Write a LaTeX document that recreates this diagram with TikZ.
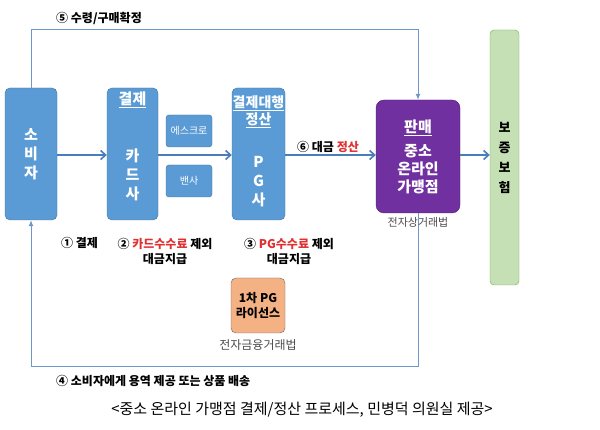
\documentclass[tikz,border=0pt]{standalone}
\usepackage{fontspec}
\setmainfont{Noto Sans CJK KR}
\usetikzlibrary{arrows.meta}
\definecolor{bl}{HTML}{5B9BD5}
\definecolor{bld}{HTML}{41719C}
\definecolor{pu}{HTML}{7030A0}
\definecolor{gr}{HTML}{C5E0B4}
\definecolor{grd}{HTML}{70AD47}
\definecolor{og}{HTML}{F4B183}
\definecolor{ln}{HTML}{4A7EBB}
\definecolor{rd}{HTML}{E03030}
\begin{document}
\begin{tikzpicture}[x=1pt,y=-1pt,
  bbox/.style={draw=bld,fill=bl,rounded corners=5pt,text=white,font=\bfseries\fontsize{15}{19}\selectfont,align=center,inner sep=0},
  btxt/.style={text=white,font=\bfseries\fontsize{15}{19}\selectfont,align=center,inner sep=0},
  sbox/.style={draw=bld,fill=bl,rounded corners=3pt,text=white,font=\fontsize{10}{12}\selectfont,inner sep=0},
  arr/.style={draw=ln,line width=1.6pt,-{Straight Barb[length=5pt,width=9pt]}},
  thin/.style={draw=ln!80,line width=1pt},
  lab/.style={font=\bfseries\fontsize{12}{15}\selectfont,align=center,inner sep=1pt}]
\useasboundingbox (0,0) rectangle (600,430);
\node[bbox,minimum width=52,minimum height=132] (cons) at (31,154) {소\\비\\자};
\node[bbox,minimum width=51,minimum height=132] (card) at (132.5,154) {};
\node[btxt] (cardh) at (132.5,100) {\underline{결제}};
\node[btxt] (cardt) at (132.5,175) {카\\드\\사};
\node[sbox,minimum width=46,minimum height=32] (esc) at (189,131) {에스크로};
\node[sbox,minimum width=46,minimum height=32] (van) at (189,181) {밴사};
\node[bbox,minimum width=53,minimum height=132] (pg) at (258.5,154) {};
\node[btxt,font=\bfseries\fontsize{14}{17}\selectfont] (pgh) at (258.5,112) {\underline{결제대행}\\\underline{정산}};
\node[btxt] (pgt) at (258.5,182) {P\\G\\사};
\node[draw=pu!70!black,fill=pu,rounded corners=8pt,minimum width=84,minimum height=113,text=white,font=\bfseries\fontsize{15}{18}\selectfont,align=center] (sell) at (418,156.5) {\underline{판매}\\[6pt]중소\\온라인\\가맹점};
\node[draw=grd,fill=gr,rounded corners=4pt,minimum width=29,minimum height=255,font=\bfseries\fontsize{13}{20}\selectfont,align=center,inner sep=0] (ins) at (504.5,157.5) {보\\증\\보\\험};
\node[draw=black!60,fill=og,rounded corners=5pt,minimum width=54,minimum height=55,font=\bfseries\fontsize{12}{15}\selectfont,align=center] (lic) at (258,305.5) {1차 PG\\라이선스};
\draw[arr] (cons.east |- 0,155) -- (card.west |- 0,155);
\draw[arr] (card.east |- 0,155) -- (pg.west |- 0,155);
\draw[arr] (pg.east |- 0,155) -- (sell.west |- 0,155);
\draw[arr] (sell.east |- 0,155) -- (ins.west |- 0,155);
\coordinate (t1) at (31,30); \coordinate (t2) at (418,30);
\draw[thin,-{Latex[length=6pt,width=5pt]}] (cons.north) -- (t1) -- (t2) -- (sell.north);
\coordinate (b1) at (418,367); \coordinate (b2) at (31,367);
\draw[thin,-{Latex[length=6pt,width=5pt]}] (sell.south) -- (b1) -- (b2) -- (cons.south);
\node[lab,anchor=west] (l5) at (55,18) {⑤ 수령/구매확정};
\node[lab] (l6) at (328,147) {⑥ 대금 \textcolor{rd}{정산}};
\node[font=\fontsize{11}{13}\selectfont,text=black!70] (law1) at (418,222) {전자상거래법};
\node[lab,anchor=west] (l1) at (60,243) {① 결제};
\node[lab] (l2) at (165,251) {② \textcolor{rd}{카드수수료} 제외\\대금지급};
\node[lab] (l3) at (289,251) {③ \textcolor{rd}{PG수수료} 제외\\대금지급};
\node[font=\fontsize{12}{14}\selectfont,text=black!70] (law2) at (258,345) {전자금융거래법};
\node[lab,anchor=west] (l4) at (55,381) {④ 소비자에게 용역 제공 또는 상품 배송};
\node[font=\fontsize{15}{18}\selectfont] (cap) at (302,410) {<중소 온라인 가맹점 결제/정산 프로세스, 민병덕 의원실 제공>};
\end{tikzpicture}
\end{document}
